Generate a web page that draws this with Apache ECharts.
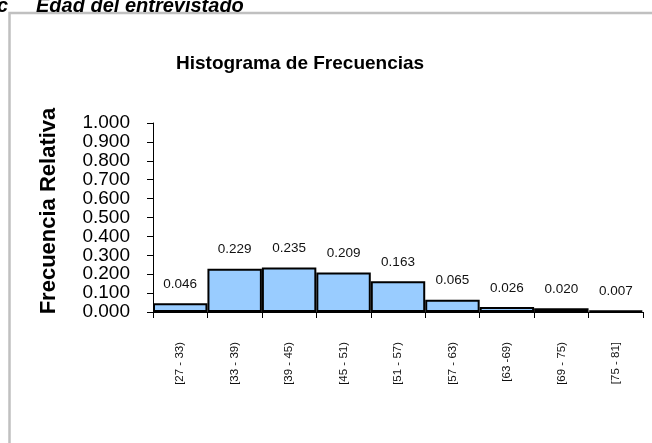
<!DOCTYPE html>
<html>
<head>
<meta charset="utf-8">
<script src="https://cdn.jsdelivr.net/npm/echarts@6/dist/echarts.min.js"></script>
<style>
  html, body { margin: 0; padding: 0; background: #fff; }
  #chart { width: 652px; height: 443px; }
</style>
</head>
<body>
<div id="chart"></div>
<script>
const categories = ["[27 - 33)", "[33 - 39)", "[39 - 45)", "[45 - 51)", "[51 - 57)", "[57 - 63)", "[63 -69)", "[69 - 75)", "[75 - 81]"]
const relFreq = [0.046, 0.229, 0.235, 0.209, 0.163, 0.065, 0.026, 0.020, 0.007]
const yMin = 0
const yMax = 1
const yStep = 0.1

const font = "'Liberation Sans', Arial, sans-serif"
const chart = echarts.init(document.getElementById("chart"), null, { renderer: "canvas" })

chart.setOption({
  animation: false,
  backgroundColor: "#fff",
  title: {
    text: "Histograma de Frecuencias",
    left: 171,
    top: 49,
    textStyle: { fontFamily: font, fontSize: 19, fontWeight: "bold", color: "#000" }
  },
  graphic: [
    // frame around the chart area
    {
      type: "rect",
      shape: { x: 9.5, y: 13, width: 700, height: 500 },
      style: { fill: "none", stroke: "#c0c0c0", lineWidth: 2.5 }
    },
    // heading, clipped at the top of the picture
    {
      type: "text",
      x: 8, y: 6,
      style: {
        text: "c", fontFamily: font, fontSize: 20, fontWeight: "bold", fontStyle: "italic",
        fill: "#000", align: "right", verticalAlign: "middle"
      }
    },
    {
      type: "text",
      x: 36, y: 6,
      style: {
        text: "Edad del entrevistado", fontFamily: font, fontSize: 20, fontWeight: "bold", fontStyle: "italic",
        fill: "#000", align: "left", verticalAlign: "middle"
      }
    },
    // y axis title
    {
      type: "text",
      x: 49, y: 211,
      rotation: Math.PI / 2,
      style: {
        text: "Frecuencia Relativa", fontFamily: font, fontSize: 22, fontWeight: "bold",
        fill: "#000", align: "center", verticalAlign: "middle"
      }
    }
  ],
  grid: { left: 153, right: 9, top: 123, bottom: 131, containLabel: false },
  xAxis: {
    type: "category",
    data: categories,
    boundaryGap: true,
    axisLine: { lineStyle: { color: "#000", width: 1 } },
    axisTick: { show: true, alignWithLabel: false, length: 6, lineStyle: { color: "#000" } },
    axisLabel: {
      rotate: 90, margin: 30, interval: 0,
      fontFamily: font, fontSize: 11.5, color: "#111"
    },
    splitLine: { show: false }
  },
  yAxis: {
    type: "value",
    min: yMin,
    max: yMax,
    interval: yStep,
    axisLine: { show: true, lineStyle: { color: "#000", width: 1 } },
    axisTick: { show: true, length: 6, lineStyle: { color: "#000" } },
    axisLabel: {
      margin: 23, fontFamily: font, fontSize: 19, color: "#000",
      showMinLabel: true, showMaxLabel: true,
      formatter: v => v.toFixed(3)
    },
    splitLine: { show: false }
  },
  series: [
    {
      type: "bar",
      data: relFreq,
      barWidth: "100%",
      itemStyle: { color: "#99ccff", borderColor: "#000", borderWidth: 2 },
      label: {
        show: true,
        position: "top",
        distance: 12,
        fontFamily: font,
        fontSize: 13.5,
        color: "#111",
        formatter: p => p.value.toFixed(3)
      }
    }
  ]
})
</script>
</body>
</html>
